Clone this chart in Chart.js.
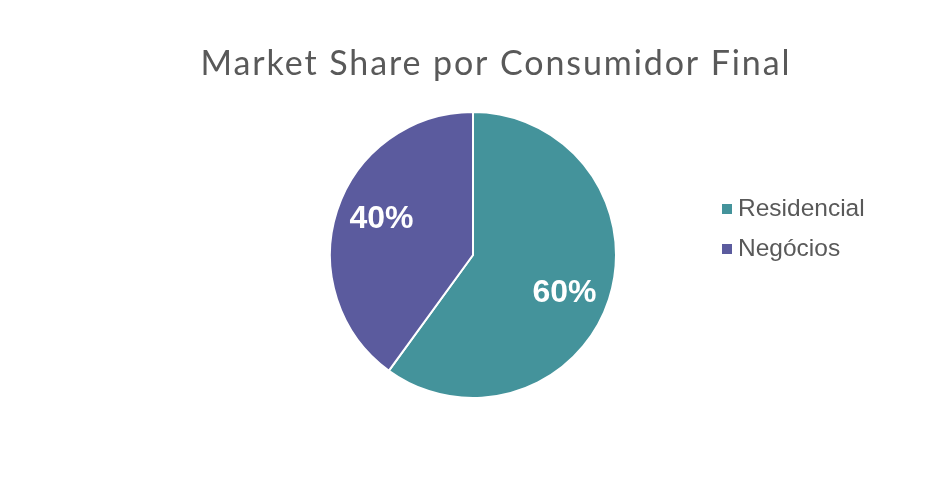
<!DOCTYPE html>
<html>
<head>
<meta charset="utf-8">
<script src="https://cdn.jsdelivr.net/npm/chart.js@4"></script>
<style>
  html, body { margin: 0; padding: 0; background: #fff; }
  #wrap { width: 945px; height: 499px; }
</style>
</head>
<body>
<div id="wrap"><canvas id="pie"></canvas></div>
<script>
const titleText = "Market Share por Consumidor Final";
const labels = ["Residencial", "Negócios"];
const shares = [60, 40];
const colors = ["#44939b", "#5b5b9e"];

// title, slice labels and legend drawn by hand to match the spreadsheet look
const decorations = {
  id: "decorations",
  afterDraw(chart) {
    const ctx = chart.ctx;
    ctx.save();

    // title
    ctx.fillStyle = "#595959";
    ctx.font = "34px Lato";
    ctx.textAlign = "center";
    ctx.textBaseline = "alphabetic";
    ctx.letterSpacing = "1.9px";
    ctx.fillText(titleText, 496, 75);
    ctx.letterSpacing = "0px";

    // percentages inside slices
    const meta = chart.getDatasetMeta(0);
    ctx.fillStyle = "#ffffff";
    ctx.font = "bold 32px 'Liberation Sans'";
    ctx.textBaseline = "middle";
    meta.data.forEach((arc, i) => {
      const mid = (arc.startAngle + arc.endAngle) / 2 + 0.07;
      const r = arc.outerRadius * 0.69;
      const x = arc.x + Math.cos(mid) * r;
      const y = arc.y + Math.sin(mid) * r;
      ctx.fillText(shares[i] + "%", x, y + 1);
    });

    // legend
    ctx.font = "24.5px 'Liberation Sans'";
    ctx.textAlign = "left";
    labels.forEach((lab, i) => {
      const y = 209 + i * 40;
      ctx.fillStyle = colors[i];
      ctx.fillRect(722, y - 5, 10, 10);
      ctx.fillStyle = "#595959";
      ctx.fillText(lab, 738, y);
    });

    ctx.restore();
  }
};

new Chart(document.getElementById("pie"), {
  type: "pie",
  data: {
    labels,
    datasets: [{
      data: shares,
      backgroundColor: colors,
      borderColor: "#ffffff",
      borderWidth: 2
    }]
  },
  options: {
    responsive: true,
    maintainAspectRatio: false,
    animation: false,
    layout: {
      padding: { top: 111, bottom: 100, left: 329, right: 328 }
    },
    plugins: {
      legend: { display: false },
      title: { display: false },
      tooltip: { enabled: false }
    }
  },
  plugins: [decorations]
});
</script>
</body>
</html>
